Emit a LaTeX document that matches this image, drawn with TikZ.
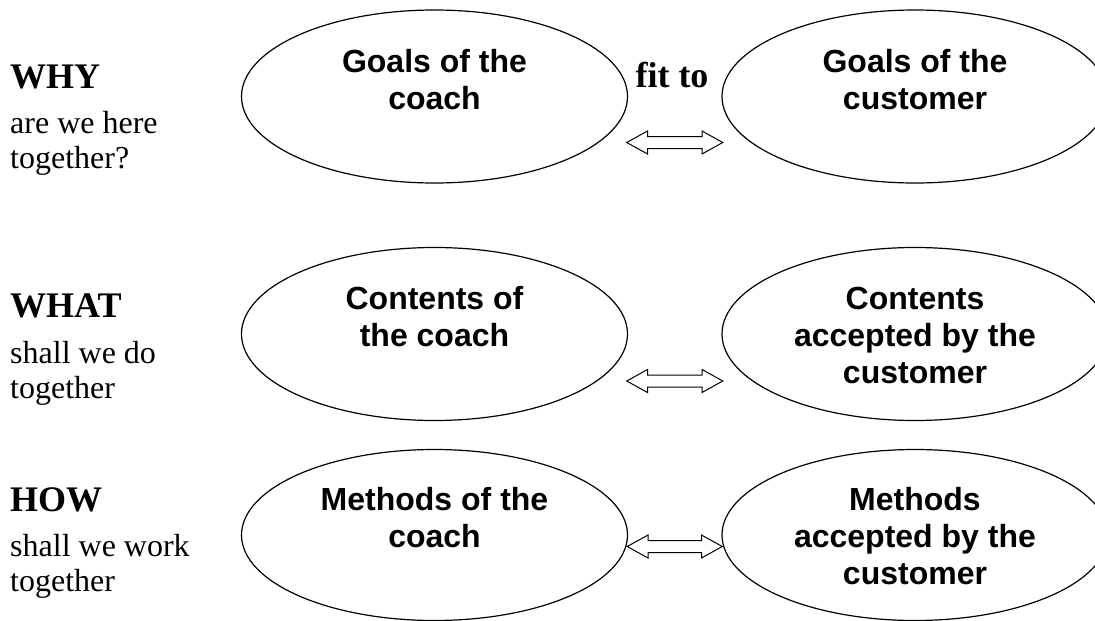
\documentclass[tikz,border=0pt]{standalone}
\usepackage{fontspec}
\setmainfont{Liberation Serif}
\newfontfamily\arialfont{Liberation Sans}
\usetikzlibrary{calc}
\usetikzlibrary{positioning}
\usetikzlibrary{shapes.geometric}
\usetikzlibrary{shapes.arrows}
\tikzset{
  oval/.style={ellipse, draw=black, line width=1.2pt, minimum width=386pt, minimum height=173pt, inner sep=0pt},
  ovaltext/.style={font=\arialfont\bfseries\fontsize{32}{37}\selectfont, align=center, inner sep=0pt},
  heading/.style={font=\bfseries\fontsize{36}{40}\selectfont, inner sep=0pt, anchor=base west},
  question/.style={font=\fontsize{32}{35.5}\selectfont, align=left, inner sep=0pt},
  fitarrow/.style={double arrow, draw=black, line width=1pt, minimum height=96pt, text height=5.5pt, text depth=5.5pt, double arrow head extend=5.5pt, double arrow tip angle=58, inner sep=0pt}
}
\begin{document}
\begin{tikzpicture}[x=1pt, y=-1pt]
\useasboundingbox (0,0) rectangle (1095,621);
% left column
\node[heading] (why) at (10,88) {WHY};
\node[question, below right=23pt and 0pt of why.base west] (whyq) {are we here\\together?};
\node[heading] (what) at (10,317) {WHAT};
\node[question, below right=24pt and 0pt of what.base west] (whatq) {shall we do\\together};
\node[heading] (how) at (10,511) {HOW};
\node[question, below right=23pt and 0pt of how.base west] (howq) {shall we work\\together};
% ovals
\node[oval] (coachA) at (434.5,96.5) {};
\node[oval] (custA) at (915,96.5) {};
\node[oval] (coachB) at (434.5,334) {};
\node[oval] (custB) at (915,334) {};
\node[oval, minimum height=171pt] (coachC) at (434.5,535) {};
\node[oval, minimum height=171pt] (custC) at (915,535) {};
\node[ovaltext, below=39.6pt of coachA.north] (coachAtext) {Goals of the\\coach};
\node[ovaltext, below=39.6pt of custA.north] (custAtext) {Goals of the\\customer};
\node[ovaltext, below=39.6pt of coachB.north] (coachBtext) {Contents of\\the coach};
\node[ovaltext, below=39.6pt of custB.north] (custBtext) {Contents\\accepted by the\\customer};
\node[ovaltext, below=38.6pt of coachC.north] (coachCtext) {Methods of the\\coach};
\node[ovaltext, below=38.6pt of custC.north] (custCtext) {Methods\\accepted by the\\customer};
% fit to
\node[heading, anchor=base] (fitto) at (672,87) {fit to};
\node[fitarrow] (fitA) at ($(coachA.east)!.5!(custA.west)+(0,46)$) {};
\node[fitarrow] (fitB) at ($(coachB.east)!.5!(custB.west)+(0,47)$) {};
\node[fitarrow, minimum height=95pt] (fitC) at ($(coachC.east)!.5!(custC.west)+(0,11.5)$) {};
\end{tikzpicture}
\end{document}
